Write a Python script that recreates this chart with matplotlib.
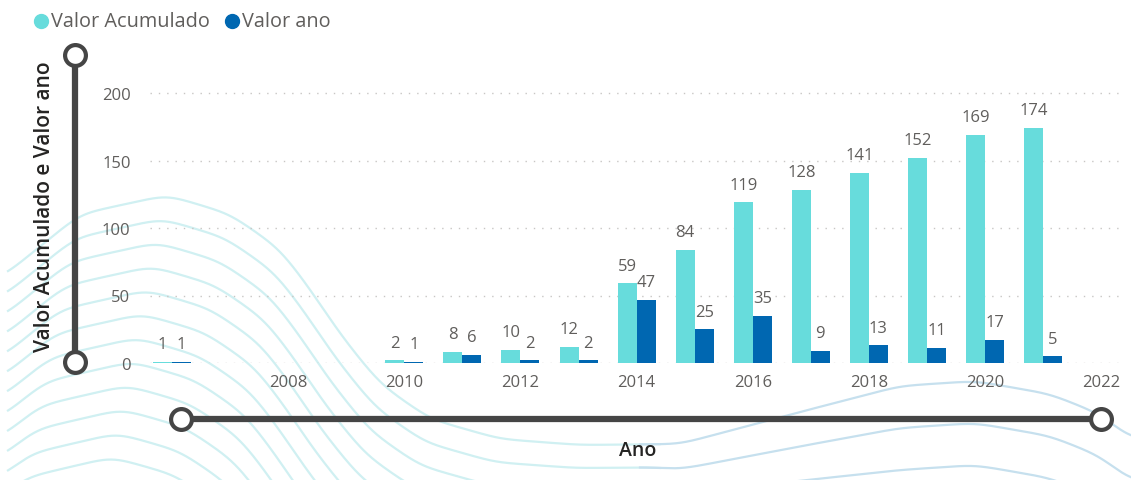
import numpy as np
import matplotlib.pyplot as plt

plt.rcParams['font.family'] = ['Open Sans', 'DejaVu Sans']

# dados
anos = [2006, 2010, 2011, 2012, 2013, 2014, 2015, 2016, 2017, 2018, 2019, 2020, 2021]
valor_acumulado = [1, 2, 8, 10, 12, 59, 84, 119, 128, 141, 152, 169, 174]
valor_ano = [1, 1, 6, 2, 2, 47, 25, 35, 9, 13, 11, 17, 5]
y_ticks = [0, 50, 100, 150, 200]
x_ticks = [2008, 2010, 2012, 2014, 2016, 2018, 2020, 2022]

cor_acum = '#67DCDC'
cor_ano = '#0067B1'
cor_texto = '#605E5C'
cor_deco = '#454545'

W, H = 1131, 481
fig = plt.figure(figsize=(W / 100, H / 100), dpi=100)

# fundo (ondas + linhas decorativas) em coordenadas de pixel
bg = fig.add_axes([0, 0, 1, 1], zorder=0)
bg.set_xlim(0, W)
bg.set_ylim(H, 0)
bg.axis('off')

# forma da onda de cima (pontos de controle, em pixels)
onda_x = [-60, 0, 80, 167, 230, 280, 310, 340, 380, 430, 500, 580, 680, 800, 900, 975, 1050, 1100, 1131, 1200]
onda_y = [370, 280, 215, 196, 215, 250, 290, 335, 385, 420, 440, 446, 445, 413, 387, 382, 395, 415, 440, 500]
esp_x = [0, 650, 900, 1200]
esp_y = [24, 23, 42, 42]


def suaviza(y, s=12):
    k = np.arange(-3 * s, 3 * s + 1)
    g = np.exp(-0.5 * (k / s) ** 2)
    g /= g.sum()
    yp = np.pad(y, 3 * s, mode='edge')
    return np.convolve(yp, g, mode='valid')


xs = np.arange(0, W + 1, 1.0)
for k in range(15):
    desl = 5 * k * np.clip((700 - xs) / 200, 0, 1)
    ys = np.interp(xs + desl, onda_x, onda_y) + k * np.interp(xs, esp_x, esp_y)
    ys = suaviza(ys)
    esq = (xs <= 660) & (xs >= 8)
    dir_ = xs >= 640
    bg.plot(xs[esq], ys[esq], color='#D0F0F2', lw=1.6, zorder=1)
    bg.plot(xs[dir_], ys[dir_], color='#C6E0EE', lw=1.6, zorder=1)

# linhas com circulos
bg.plot([75, 75], [56, 363], color=cor_deco, lw=4.5, zorder=3, solid_capstyle='butt')
bg.plot([181, 1101], [420, 420], color=cor_deco, lw=4.5, zorder=3, solid_capstyle='butt')
bg.plot([75, 75, 181, 1101], [56, 363, 420, 420], ls='none', marker='o', ms=15,
        mfc='white', mec=cor_deco, mew=3, zorder=4)

# legenda
bg.plot([41], [22], ls='none', marker='o', ms=10, color=cor_acum, zorder=4)
bg.text(51, 22, 'Valor Acumulado', fontsize=14.3, color=cor_texto, va='center', ha='left')
bg.plot([232], [22], ls='none', marker='o', ms=10, color=cor_ano, zorder=4)
bg.text(242, 22, 'Valor ano', fontsize=14.3, color=cor_texto, va='center', ha='left')

# grafico principal
ax = fig.add_axes([150 / W, (H - 364) / H, (1125 - 150) / W, (364 - 80.5) / H], zorder=1)
ax.patch.set_alpha(0)
x = np.array(anos, dtype=float)
w = 0.327
ax.bar(x - w / 2, valor_acumulado, w, color=cor_acum, zorder=3)
ax.bar(x + w / 2, valor_ano, w, color=cor_ano, zorder=3)

for xi, v in zip(x - w / 2, valor_acumulado):
    ax.annotate(str(v), (xi, v), xytext=(0, 7), textcoords='offset points',
                ha='center', va='bottom', fontsize=12, color=cor_texto)
for xi, v in zip(x + w / 2, valor_ano):
    ax.annotate(str(v), (xi, v), xytext=(0, 7), textcoords='offset points',
                ha='center', va='bottom', fontsize=12, color=cor_texto)

ax.set_xlim(2005.62, 2022.41)
ax.set_ylim(0, 210)
ax.set_xticks(x_ticks)
ax.set_yticks(y_ticks)
ax.grid(axis='y', color='#C8C6C4', lw=1, ls=(0, (1, 5)), zorder=0)
ax.set_axisbelow(True)
for s in ax.spines.values():
    s.set_visible(False)
ax.tick_params(axis='both', length=0, labelsize=12, labelcolor=cor_texto)
ax.tick_params(axis='y', pad=14)
ax.tick_params(axis='x', pad=8)

fig.text(45 / W, 1 - 207 / H, 'Valor Acumulado e Valor ano', rotation=90, fontsize=15,
         color='#252423', ha='center', va='center', fontweight='semibold')
fig.text(638 / W, 1 - 451 / H, 'Ano', fontsize=14, color='#252423',
         ha='center', va='center', fontweight='semibold')

fig.savefig('out.png', dpi=100)
